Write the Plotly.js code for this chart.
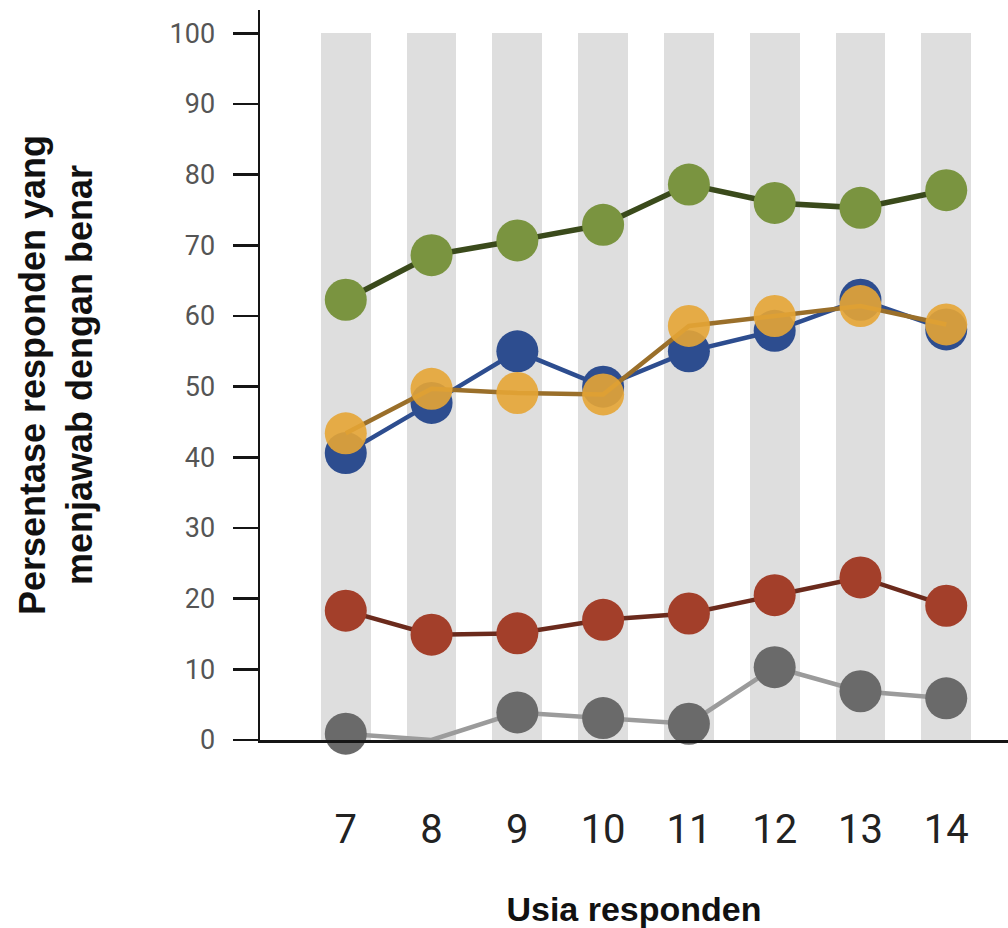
<!DOCTYPE html>
<html>
<head>
<meta charset="utf-8">
<script src="https://cdn.plot.ly/plotly-3.0.1.min.js"></script>
<style>html,body{margin:0;padding:0;background:#fff;}#chart{width:1008px;height:928px;}</style>
</head>
<body>
<div id="chart"></div>
<script>
// Data
const ages = [7, 8, 9, 10, 11, 12, 13, 14];
const stripeHeight = [100, 100, 100, 100, 100, 100, 100, 100];
const greenSeries  = [62.3, 68.6, 70.7, 72.9, 78.6, 76.0, 75.3, 77.8];
const blueSeries   = [40.6, 47.7, 55.0, 50.0, 55.0, 57.9, 62.3, 58.1];
const orangeSeries = [43.4, 49.7, 49.1, 48.9, 58.6, 60.0, 61.4, 58.8];
const redSeries    = [18.3, 14.9, 15.1, 17.0, 17.9, 20.5, 23.0, 19.0];
const graySeries   = [0.9, 0.0, 3.9, 3.1, 2.3, 10.3, 6.9, 5.9];
const yTicks = [0, 10, 20, 30, 40, 50, 60, 70, 80, 90, 100];

const MS = 42;
function series(y, lineColor, markerColor, lw, opacity, sizes) {
  return {
    type: 'scatter', mode: 'lines+markers', x: ages, y: y,
    line: {color: lineColor, width: lw},
    marker: {color: markerColor, size: sizes || MS, opacity: opacity, line: {width: 0}},
    cliponaxis: false, hoverinfo: 'skip', showlegend: false
  };
}
// gray series: no dot drawn where the value is zero (age 8)
const graySizes = graySeries.map(v => v === 0 ? 0 : MS);

const data = [
  {type: 'bar', x: ages, y: stripeHeight, width: 0.58, marker: {color: '#dedede', line: {width: 0}},
   hoverinfo: 'skip', showlegend: false},
  series(graySeries, '#9b9b9b', '#6a6a6a', 4.5, 1, graySizes),
  series(redSeries, '#6b2a1c', '#a33f2a', 4.5, 1),
  series(greenSeries, '#3a4a1b', '#7a9440', 5.5, 1),
  series(blueSeries, '#2d4d8f', '#2d4d8f', 4.5, 1),
  series(orangeSeries, '#9a6f2a', '#e6a535', 4.5, 0.9)
];

const layout = {
  width: 1008, height: 928,
  margin: {l: 260, r: 0, t: 10, b: 188},
  paper_bgcolor: '#ffffff', plot_bgcolor: '#ffffff',
  font: {family: 'Roboto, "DejaVu Sans", sans-serif', color: '#222'},
  showlegend: false,
  bargap: 0,
  xaxis: {
    range: [6.0, 14.72], tickvals: ages, ticktext: ages.map(String),
    showgrid: false, zeroline: false, showline: true, linecolor: '#151515', linewidth: 2.5,
    ticks: '', tickfont: {size: 40, color: '#222'}, ticklabelstandoff: 52,
    title: {text: 'Usia responden', font: {family: '"Liberation Sans", Arial, sans-serif', size: 34, color: '#111', weight: 'bold'}, standoff: 48},
    automargin: false, fixedrange: true
  },
  yaxis: {
    range: [0, 103.3], tickvals: yTicks, ticktext: yTicks.map(String),
    showgrid: false, zeroline: false, showline: true, linecolor: '#151515', linewidth: 2.5,
    ticks: 'outside', ticklen: 25, tickwidth: 2.5, tickcolor: '#151515',
    tickfont: {size: 27, color: '#555'}, ticklabelstandoff: 12,
    title: {text: 'Persentase responden yang<br>menjawab dengan benar',
            font: {family: '"Liberation Sans", Arial, sans-serif', size: 36, color: '#111', weight: 'bold'}, standoff: 66},
    automargin: false, fixedrange: true
  }
};

Plotly.newPlot('chart', data, layout, {staticPlot: true, displayModeBar: false});
</script>
</body>
</html>
